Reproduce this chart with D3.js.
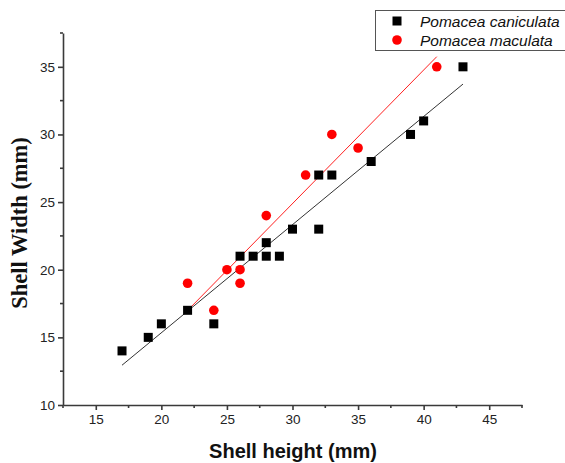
<!DOCTYPE html>
<html>
<head>
<meta charset="utf-8">
<script src="https://cdn.jsdelivr.net/npm/d3@7"></script>
<style>
  body { margin: 0; background: #fff; }
  svg { display: block; }
</style>
</head>
<body>
<div id="chart"></div>
<script>
// data
var canHeight = [17, 19, 20, 22, 24, 26, 27, 28, 29, 28, 30, 32, 32, 33, 36, 39, 40, 43]
var canWidth = [14, 15, 16, 17, 16, 21, 21, 21, 21, 22, 23, 23, 27, 27, 28, 30, 31, 35]
var macHeight = [22, 24, 25, 26, 26, 28, 31, 33, 35, 41]
var macWidth = [19, 17, 20, 20, 19, 24, 27, 30, 29, 35]
var seriesNames = ['Pomacea caniculata', 'Pomacea maculata']
var xTicks = [15, 20, 25, 30, 35, 40, 45]
var yTicks = [10, 15, 20, 25, 30, 35]

var width = 565
var height = 463
var axisColor = '#3a3a3a'

var svg = d3.select('#chart')
  .append('svg')
  .attr('width', width)
  .attr('height', height)

var xPositionScale = d3.scaleLinear().domain([12.5, 47.5]).range([63, 522])
var yPositionScale = d3.scaleLinear().domain([10, 37.5]).range([405, 33])

function zip(xs, ys) {
  return xs.map(function(x, i) { return { x: x, y: ys[i] } })
}
var caniculata = zip(canHeight, canWidth)
var maculata = zip(macHeight, macWidth)

// least squares fit, like the software did
function fit(points) {
  var mx = d3.mean(points, d => d.x)
  var my = d3.mean(points, d => d.y)
  var sxy = d3.sum(points, d => (d.x - mx) * (d.y - my))
  var sxx = d3.sum(points, d => (d.x - mx) * (d.x - mx))
  var slope = sxy / sxx
  var ext = d3.extent(points, d => d.x)
  return ext.map(function(x) { return { x: x, y: my + slope * (x - mx) } })
}

var line = d3.line()
  .x(d => xPositionScale(d.x))
  .y(d => yPositionScale(d.y))

// axes
var minorX = d3.range(12.5, 47.6, 5)
var minorY = d3.range(12.5, 37.6, 5)

var xAxis = svg.append('g')
  .attr('class', 'axis x-axis')
  .attr('transform', 'translate(0,405)')
  .call(d3.axisBottom(xPositionScale).tickValues(xTicks).tickSize(5).tickSizeOuter(0).tickPadding(4))
xAxis.selectAll('.minor')
  .data(minorX)
  .enter().append('line')
  .attr('x1', d => xPositionScale(d))
  .attr('x2', d => xPositionScale(d))
  .attr('y1', 0)
  .attr('y2', 3)

var yAxis = svg.append('g')
  .attr('class', 'axis y-axis')
  .attr('transform', 'translate(63,0)')
  .call(d3.axisLeft(yPositionScale).tickValues(yTicks).tickSize(5).tickSizeOuter(0).tickPadding(3))
yAxis.selectAll('.minor')
  .data(minorY)
  .enter().append('line')
  .attr('x1', 0)
  .attr('x2', -3)
  .attr('y1', d => yPositionScale(d))
  .attr('y2', d => yPositionScale(d))

svg.selectAll('.axis path, .axis line')
  .attr('stroke', axisColor)
  .attr('stroke-width', 1.6)
svg.selectAll('.axis text')
  .attr('font-family', 'Arial, "Liberation Sans", sans-serif')
  .attr('font-size', 13.5)
  .attr('fill', '#222')

// fit lines
svg.append('path')
  .datum(fit(caniculata))
  .attr('d', line)
  .attr('fill', 'none')
  .attr('stroke', '#333')
  .attr('stroke-width', 1)

svg.append('path')
  .datum(fit(maculata))
  .attr('d', line)
  .attr('fill', 'none')
  .attr('stroke', '#ff2020')
  .attr('stroke-width', 1)

// points
svg.selectAll('.can')
  .data(caniculata)
  .enter().append('rect')
  .attr('class', 'can')
  .attr('x', d => xPositionScale(d.x) - 4.5)
  .attr('y', d => yPositionScale(d.y) - 4.5)
  .attr('width', 9)
  .attr('height', 9)
  .attr('fill', '#000')

svg.selectAll('.mac')
  .data(maculata)
  .enter().append('circle')
  .attr('class', 'mac')
  .attr('cx', d => xPositionScale(d.x))
  .attr('cy', d => yPositionScale(d.y))
  .attr('r', 4.8)
  .attr('fill', '#ff0000')

// axis titles
svg.append('text')
  .attr('x', 293)
  .attr('y', 458)
  .attr('text-anchor', 'middle')
  .attr('font-family', 'Arial, "Liberation Sans", sans-serif')
  .attr('font-weight', 'bold')
  .attr('font-size', 20)
  .attr('fill', '#111')
  .text('Shell height (mm)')

svg.append('text')
  .attr('transform', 'translate(27,223) rotate(-90)')
  .attr('text-anchor', 'middle')
  .attr('font-family', '"Times New Roman", "Liberation Serif", serif')
  .attr('font-weight', 'bold')
  .attr('font-size', 22.5)
  .attr('fill', '#111')
  .text('Shell Width (mm)')

// legend
var legend = svg.append('g').attr('class', 'legend')
legend.append('rect')
  .attr('x', 375.5)
  .attr('y', 10.5)
  .attr('width', 200)
  .attr('height', 40)
  .attr('fill', '#fff')
  .attr('stroke', '#555')
  .attr('stroke-width', 1)

var items = legend.selectAll('.item')
  .data(seriesNames)
  .enter().append('g')
  .attr('class', 'item')
  .attr('transform', (d, i) => 'translate(397,' + (21 + i * 19) + ')')

items.filter((d, i) => i === 0).append('rect')
  .attr('x', -4.5).attr('y', -4.5).attr('width', 9).attr('height', 9)
  .attr('fill', '#000')
items.filter((d, i) => i === 1).append('circle')
  .attr('r', 4.8)
  .attr('fill', '#ff0000')

items.append('text')
  .attr('x', 23)
  .attr('y', 5.5)
  .attr('font-family', 'Arial, "Liberation Sans", sans-serif')
  .attr('font-style', 'italic')
  .attr('font-size', 15.5)
  .attr('fill', '#111')
  .text(d => d)
</script>
</body>
</html>
